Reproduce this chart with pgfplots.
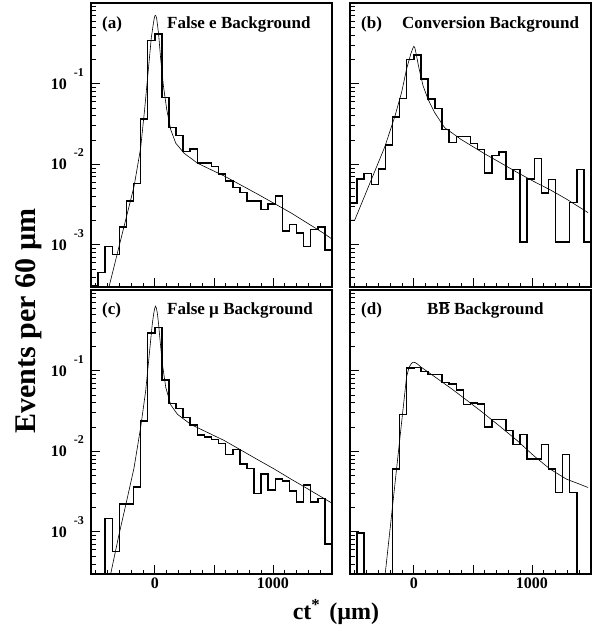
\documentclass[border=0pt]{standalone}
\usepackage{fontspec}
\setmainfont{Liberation Serif}
\usepackage{pgfplots}
\usepackage{pgfplotstable}
\pgfplotsset{compat=1.18}

% histogram contents, bin left edges (60 um bins), last row closes the last bin
\pgfplotstableread{
x     a        b        c        d
-540  3.1e-4   3.29e-3  1e-6     1e-6
-480  4.55e-4  6.56e-3  1e-6     9.7e-4
-420  9.5e-4   7.64e-3  1.47e-3  1e-6
-360  7.6e-4   5.57e-3  5.73e-4  1e-6
-300  1.66e-3  8.75e-3  2.22e-3  1e-6
-240  3.5e-3   0.0173   2.22e-3  1e-6
-180  5.8e-3   0.0387   3.58e-3  6.0e-3
-120  0.0365   0.0656   0.0237   0.0285
-60   0.341    0.198    0.293    0.107
0     0.414    0.228    0.341    0.110
60    0.0668   0.114    0.0765   0.0972
120   0.0287   0.0643   0.0391   0.090
180   0.0226   0.0492   0.0341   0.090
240   0.0144   0.0271   0.0261   0.0715
300   0.0154   0.0185   0.0211   0.0681
360   0.0103   0.0220   0.0158   0.0573
420   0.0103   0.0220   0.0150   0.0379
480   0.00935  0.0181   0.0140   0.0398
540   0.00757  0.0153   0.0124   0.0383
600   0.00619  0.0078   0.0091   0.020
660   0.00516  0.0128   0.0105   0.0246
720   0.00443  0.0141   0.00695  0.0246
780   0.00351  0.00656  0.00607  0.0181
840   0.00351  0.00858  0.00301  0.0121
900   0.00274  0.00109  0.00521  0.0162
960   0.00319  0.00656  0.00332  0.0080
1020  0.00402  0.0117   0.00455  0.0080
1080  0.00148  0.00438  0.00430  0.0121
1140  0.00180  0.00643  0.00322  0.0060
1200  0.00140  0.00109  0.00233  0.00307
1260  0.00095  0.00109  0.00383  0.00908
1320  0.00154  0.00335  0.00233  0.00307
1380  0.00166  0.00858  0.00261  1e-6
1440  0.000866 0.00109  0.00071  1e-6
1500  0.000866 0.00109  0.00071  1e-6
}\histdata

\newcommand{\expten}[1]{\textbf{10}\hspace{7pt}\raisebox{13pt}{\fontsize{12}{12}\selectfont\textbf{#1}}}

\pgfplotsset{
  myaxis/.style={
    scale only axis, width=241pt, height=284pt,
    xmin=-540, xmax=1500,
    ymin=3e-4, ymax=1,
    axis line style={line width=1.6pt},
    tick align=inside,
    xtick pos=left, ytick pos=left,
    xtick={0,500,1000},
    minor xtick={-500,-400,...,1500},
    ytick={1e-3,1e-2,1e-1},
    minor ytick={4e-4,5e-4,6e-4,7e-4,8e-4,9e-4,
      2e-3,3e-3,4e-3,5e-3,6e-3,7e-3,8e-3,9e-3,
      2e-2,3e-2,4e-2,5e-2,6e-2,7e-2,8e-2,9e-2,
      2e-1,3e-1,4e-1,5e-1,6e-1,7e-1,8e-1,9e-1},
    major tick length=9pt, minor tick length=4.5pt,
    tick style={line width=0.7pt, black},
    xticklabels={}, yticklabels={},
    xticklabel style={font=\fontsize{16}{16}\selectfont\bfseries},
    yticklabel style={font=\fontsize{16}{16}\selectfont\bfseries,
      anchor=base east, yshift=-5.5pt, xshift=-3.5pt},
  },
  myhist/.style={const plot mark left, line width=1.5pt, black},
  myfit/.style={line width=0.6pt, black},
}

\begin{document}
\begin{tikzpicture}
\useasboundingbox (0pt,0pt) rectangle (598pt,631pt);

% (a)
\begin{semilogyaxis}[myaxis, at={(91pt,344pt)}, anchor=south west,
  yticklabels={\expten{-3},\expten{-2},\expten{-1}}]
\addplot[myhist] table[x=x, y=a] {\histdata};
\addplot[myfit] coordinates {
(-420,2.0e-4) (-389,2.96e-4) (-304,9.35e-4) (-233,2.44e-3) (-176,5.26e-3)
(-120,0.0158) (-86,0.0478) (-57,0.137) (-29,0.376) (-15,0.52) (-6,0.63)
(0,0.69) (5,0.70) (10,0.69) (16,0.64) (24,0.52) (33,0.40) (50,0.201)
(73,0.0935) (101,0.0478) (135,0.0268) (177,0.0183) (248,0.0137)
(361,0.0103) (587,0.00715) (870,0.00426) (1153,0.00249) (1437,0.00137)
(1500,0.00118)};
\end{semilogyaxis}

% (b)
\begin{semilogyaxis}[myaxis, at={(350pt,344pt)}, anchor=south west]
\addplot[myhist] table[x=x, y=b] {\histdata};
\addplot[myfit] coordinates {
(-540,2.03e-3) (-500,2.03e-3) (-383,5.3e-3) (-243,0.0168) (-159,0.0398)
(-103,0.078) (-61,0.152) (-25,0.235) (-10,0.27) (0,0.29) (8,0.28)
(17,0.246) (42,0.16) (78,0.0944) (120,0.0643) (176,0.0438) (260,0.0285)
(400,0.0203) (595,0.0136) (735,0.0104) (874,0.00794) (1014,0.00613)
(1154,0.00482) (1293,0.00369) (1475,0.00251)};
\end{semilogyaxis}

% (c)
\begin{semilogyaxis}[myaxis, at={(91pt,57pt)}, anchor=south west,
  xticklabels={0,,1000},
  yticklabels={\expten{-3},\expten{-2},\expten{-1}}]
\addplot[myhist] table[x=x, y=c] {\histdata};
\addplot[myfit] coordinates {
(-400,2.0e-4) (-375,2.93e-4) (-304,9.1e-4) (-233,2.61e-3) (-176,6.19e-3)
(-120,0.0196) (-77,0.0562) (-49,0.147) (-21,0.383) (-8,0.52) (0,0.60)
(7,0.63) (14,0.59) (22,0.51) (32,0.38) (42,0.261) (64,0.121) (93,0.0619)
(135,0.0376) (192,0.0287) (305,0.0215) (587,0.0136) (870,0.00787)
(1012,0.00601) (1153,0.00451) (1295,0.00341) (1493,0.00230)};
\end{semilogyaxis}

% (d)
\begin{semilogyaxis}[myaxis, at={(350pt,57pt)}, anchor=south west,
  xticklabels={0,,1000}]
\addplot[myhist] table[x=x, y=d] {\histdata};
\addplot[myfit] coordinates {
(-260,1.7e-4) (-243,2.93e-4) (-187,1.67e-3) (-131,9.6e-3) (-89,0.0354)
(-61,0.084) (-40,0.110) (-20,0.123) (-5,0.127) (10,0.126) (30,0.121)
(64,0.110) (176,0.0841) (316,0.0601) (455,0.0422) (595,0.0293)
(735,0.020) (874,0.0136) (1014,0.00883) (1154,0.0060) (1293,0.0045)
(1405,0.0039) (1475,0.00355)};
\end{semilogyaxis}

% panel titles
\begin{scope}[every node/.style={inner sep=0pt, anchor=base west,
    font=\fontsize{17}{17}\selectfont\bfseries}]
\node at (102pt,602pt) {(a)};
\node at (167pt,602pt) {False e Background};
\node at (361pt,602pt) {(b)};
\node at (402pt,602pt) {Conversion Background};
\node at (102pt,316pt) {(c)};
\node at (167pt,316pt) {False µ Background};
\node at (361pt,316pt) {(d)};
\node at (427pt,316pt) {B$\overline{\mbox{\bfseries B}}$ Background};
\end{scope}

% axis titles
\node[rotate=90, anchor=base, inner sep=0pt, font=\fontsize{30}{30}\selectfont\bfseries]
  at (35pt,310pt) {Events per 60 µm};
\node[anchor=base, inner sep=0pt, font=\fontsize{24}{24}\selectfont\bfseries]
  at (336pt,11pt) {ct\textsuperscript{*}\hspace{3pt} (µm)};
\end{tikzpicture}
\end{document}
